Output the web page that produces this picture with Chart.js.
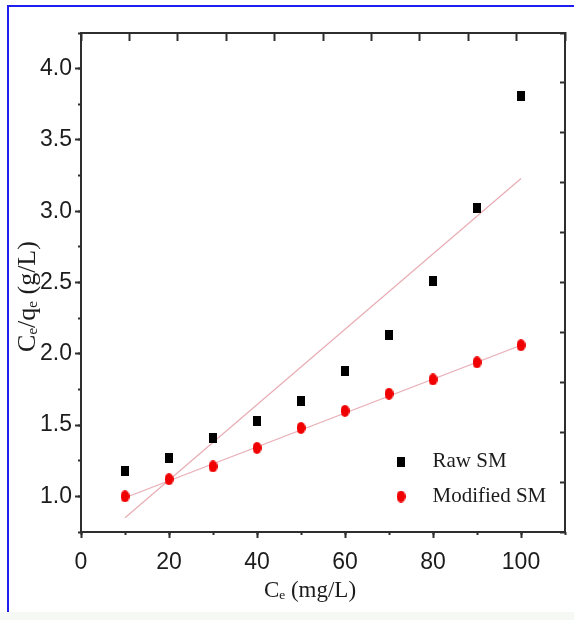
<!DOCTYPE html>
<html>
<head>
<meta charset="utf-8">
<title>Ce/qe vs Ce</title>
<script src="https://cdn.jsdelivr.net/npm/chart.js@4.4.1/dist/chart.umd.min.js"></script>
<style>
  html, body { margin: 0; padding: 0; background: #fff; }
  #page { position: relative; width: 574px; height: 620px; overflow: hidden; }
  #frame {
    position: absolute; left: 7px; top: 5px; right: -10px; height: 606px;
    border-left: 2px solid #1e1ef0; border-top: 2px solid #1e1ef0;
  }
  #strip { position: absolute; left: 0; top: 612px; width: 574px; height: 8px; background: #f6f9f3; }
  #chart { position: absolute; left: 0; top: 0; }
</style>
</head>
<body>
<div id="page">
  <div id="frame"></div>
  <div id="strip"></div>
  <canvas id="chart" width="574" height="620"></canvas>
</div>
<script>
// Ce (mg/L) at which Ce/qe was measured
const ceValues = [10, 20, 30, 40, 50, 60, 70, 80, 90, 100];
// Ce/qe (g/L)
const rawSM = [1.18, 1.27, 1.41, 1.53, 1.67, 1.88, 2.13, 2.51, 3.02, 3.81];
const modifiedSM = [1.00, 1.12, 1.21, 1.34, 1.48, 1.60, 1.72, 1.82, 1.94, 2.06];

// linear fit lines, end points only
const fitCe = [10, 100];
const rawFit = [0.85, 3.23];
const modifiedFit = [0.99, 2.06];

// axis ranges
const xRange = [0, 110];
const yRange = [0.75, 4.25];

const xTitle = 'Cₑ (mg/L)';
const yTitle = 'Cₑ/qₑ (g/L)';

const serif = "'Liberation Serif', 'Times New Roman', serif";
const narrow = "'Liberation Sans Narrow', 'Arial Narrow', 'Liberation Sans', Arial, sans-serif";
const ink = '#1c1c1c';
const axisColor = '#2e2e2e';
const fitColor = 'rgba(210, 90, 105, 0.5)';

function toPoints(xs, ys) {
    return xs.map((x, i) => ({ x, y: ys[i] }));
}

// marker bitmaps (the original symbols are a little taller than wide)
function makeMarker(w, h, color, round) {
    const c = document.createElement('canvas');
    c.width = w;
    c.height = h;
    const g = c.getContext('2d');
    g.fillStyle = color;
    if (round) {
        g.beginPath();
        g.ellipse(w / 2, h / 2, w / 2, h / 2, 0, 0, Math.PI * 2);
        g.fill();
    } else {
        g.fillRect(0, 0, w, h);
    }
    return c;
}

const squareMarker = makeMarker(8, 10, '#000', false);
const dotMarker = makeMarker(9, 12, '#f00000', true);

function keepEvery(step) {
    return scale => {
        scale.ticks = scale.ticks.filter(t => {
            const r = t.value / step;
            return Math.abs(r - Math.round(r)) < 1e-6;
        });
    };
}

// the legend sits inside the plot, lower right
const legendPlacer = {
    id: 'legendPlacer',
    afterLayout(chart) {
        const lg = chart.legend;
        const area = chart.chartArea;
        lg.left = area.left + 285;
        lg.top = area.bottom - 95;
        lg.right = lg.left + 200;
        lg.bottom = lg.top + 120;
    },
};

// axis titles, set a little off-centre like the original figure
const axisTitles = {
    id: 'axisTitles',
    afterDraw(chart) {
        const { ctx, chartArea: a } = chart;
        ctx.save();
        ctx.fillStyle = ink;
        ctx.textAlign = 'center';
        ctx.textBaseline = 'alphabetic';
        ctx.font = `23px ${serif}`;
        ctx.fillText(xTitle, (a.left + a.right) / 2 - 13, a.bottom + 65);
        ctx.translate(a.left - 46, (a.top + a.bottom) / 2 + 14);
        ctx.rotate(-Math.PI / 2);
        ctx.font = `26px ${serif}`;
        ctx.fillText(yTitle, 0, 0);
        ctx.restore();
    },
};

const frameTicks = {
    drawOnChartArea: false,
    tickWidth: 2,
    tickColor: axisColor,
};

new Chart(document.getElementById('chart'), {
    type: 'scatter',
    data: {
        datasets: [
            {
                label: 'Raw SM',
                data: toPoints(ceValues, rawSM),
                pointStyle: squareMarker,
                pointRadius: 5,
                xAxisID: 'x',
                yAxisID: 'y',
                order: 1,
            },
            {
                label: 'Modified SM',
                data: toPoints(ceValues, modifiedSM),
                pointStyle: dotMarker,
                pointRadius: 5,
                xAxisID: 'x',
                yAxisID: 'y',
                order: 1,
            },
            {
                label: 'Raw SM fit',
                data: toPoints(fitCe, rawFit),
                showLine: true,
                borderColor: fitColor,
                borderWidth: 1.2,
                pointRadius: 0,
                xAxisID: 'x',
                yAxisID: 'y',
                order: 2,
            },
            {
                label: 'Modified SM fit',
                data: toPoints(fitCe, modifiedFit),
                showLine: true,
                borderColor: fitColor,
                borderWidth: 1.2,
                pointRadius: 0,
                xAxisID: 'x',
                yAxisID: 'y',
                order: 2,
            },
        ],
    },
    options: {
        responsive: false,
        animation: false,
        layout: { padding: 0 },
        plugins: {
            tooltip: { enabled: false },
            legend: {
                position: 'chartArea',
                align: 'start',
                labels: {
                    usePointStyle: true,
                    pointStyleWidth: 42,
                    padding: 14,
                    color: ink,
                    font: { family: serif, size: 21 },
                    filter: item => item.datasetIndex < 2,
                },
            },
        },
        scales: {
            x: {
                type: 'linear',
                position: 'bottom',
                weight: 1,
                min: xRange[0],
                max: xRange[1],
                afterBuildTicks: keepEvery(20),
                ticks: {
                    stepSize: 20,
                    includeBounds: false,
                    autoSkip: false,
                    padding: 11,
                    color: ink,
                    font: { family: narrow, size: 23 },
                },
                grid: { ...frameTicks, tickLength: 6 },
                border: { color: axisColor, width: 2 },
                afterFit: s => { s.height = 88; },
            },
            xMinor: {
                type: 'linear',
                axis: 'x',
                position: 'bottom',
                weight: 0,
                min: xRange[0],
                max: xRange[1],
                ticks: { display: false, stepSize: 10 },
                grid: { ...frameTicks, tickLength: 3 },
                border: { display: false },
                afterFit: s => { s.height = 0; },
            },
            xTop: {
                type: 'linear',
                axis: 'x',
                position: 'top',
                min: xRange[0],
                max: xRange[1],
                ticks: { display: false, stepSize: 11 },
                grid: { ...frameTicks, tickLength: -8 },
                border: { color: axisColor, width: 2 },
                afterFit: s => { s.height = 33; },
            },
            y: {
                type: 'linear',
                position: 'left',
                weight: 1,
                min: yRange[0],
                max: yRange[1],
                afterBuildTicks: keepEvery(0.5),
                ticks: {
                    stepSize: 0.25,
                    includeBounds: false,
                    autoSkip: false,
                    padding: 3,
                    color: ink,
                    font: { family: narrow, size: 23 },
                    callback: v => v.toFixed(1),
                },
                grid: { ...frameTicks, tickLength: 6 },
                border: { color: axisColor, width: 2 },
                afterFit: s => { s.width = 81; },
            },
            yMinor: {
                type: 'linear',
                axis: 'y',
                position: 'left',
                weight: 0,
                min: yRange[0],
                max: yRange[1],
                ticks: { display: false, stepSize: 0.25 },
                grid: { ...frameTicks, tickLength: 3 },
                border: { display: false },
                afterFit: s => { s.width = 0; },
            },
            yRight: {
                type: 'linear',
                axis: 'y',
                position: 'right',
                min: yRange[0],
                max: yRange[1],
                ticks: { display: false, stepSize: 0.35 },
                grid: { ...frameTicks, tickLength: -5 },
                border: { color: axisColor, width: 2 },
                afterFit: s => { s.width = 9; },
            },
        },
    },
    plugins: [legendPlacer, axisTitles],
});
</script>
</body>
</html>
